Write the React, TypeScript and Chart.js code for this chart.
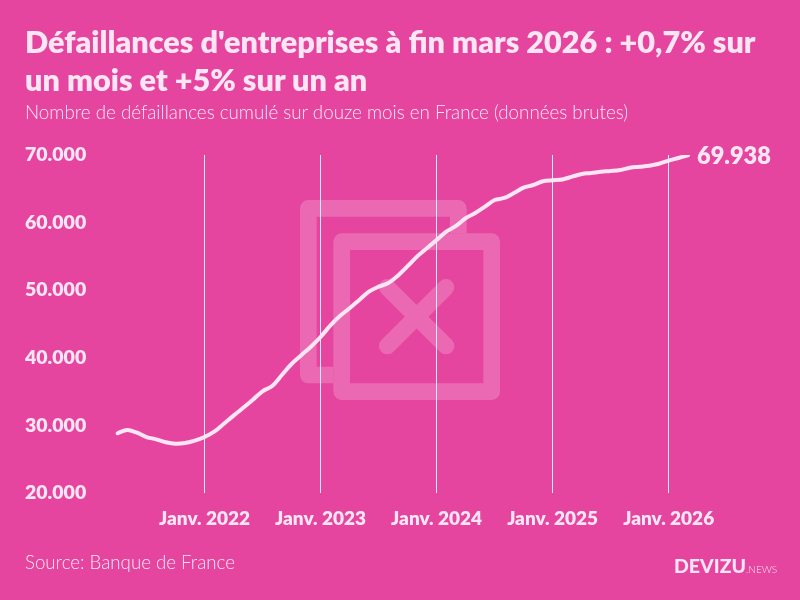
import { useEffect, useRef } from 'react';
import { Chart, registerables } from 'chart.js';

Chart.register(...registerables);

const years = [2021, 2022, 2023, 2024, 2025, 2026];
const firstMonths = [4, 1, 1, 1, 1, 1];
const lastMonths = [12, 12, 12, 12, 12, 3];

// cumulative failures over twelve months (april 2021 -> march 2026)
const values2021 = [28830, 29320, 28920, 28280, 27940, 27500, 27290, 27400, 27740];
const values2022 = [28280, 29070, 30250, 31450, 32600, 33800, 35050, 35830, 37460, 39080, 40370, 41640];
const values2023 = [43080, 44750, 46180, 47320, 48550, 49780, 50520, 51050, 52150, 53550, 55000, 56200];
const values2024 = [57430, 58650, 59500, 60640, 61420, 62350, 63340, 63640, 64380, 65160, 65560, 66110];
const values2025 = [66260, 66380, 66790, 67190, 67340, 67530, 67630, 67780, 68120, 68270, 68420, 68710];
const values2026 = [69160, 69560, 69938];

const values = [...values2021, ...values2022, ...values2023, ...values2024, ...values2025, ...values2026];
const labels: string[] = [];
years.forEach((y, i) => {
    for (let m = firstMonths[i]; m <= lastMonths[i]; m++) labels.push(`${y}-${m}`);
});

const BG = '#e5449f';
const INK = '#fde6f3';
const FONT = 'Lato, sans-serif';

const thousands = (v: number) => String(v).replace(/\B(?=(\d{3})+$)/g, '.');
const isJanuary = (i: number) => labels[i]?.endsWith('-1') && !labels[i]?.endsWith('-11');

// value written right after the end of the line
const endLabel = {
    id: 'endLabel',
    afterDatasetsDraw(chart: Chart) {
        const pts = chart.getDatasetMeta(0).data;
        const last = pts[pts.length - 1];
        const { ctx } = chart;
        ctx.save();
        ctx.fillStyle = INK;
        ctx.font = `800 23.5px ${FONT}`;
        ctx.textAlign = 'left';
        ctx.textBaseline = 'middle';
        ctx.fillText(thousands(values[values.length - 1]), last.x + 9, last.y + 1);
        ctx.restore();
    },
};

export default function App() {
    const canvasRef = useRef<HTMLCanvasElement>(null);

    useEffect(() => {
        if (!canvasRef.current) return;
        const chart = new Chart(canvasRef.current, {
            type: 'line',
            data: {
                labels,
                datasets: [
                    {
                        data: values,
                        borderColor: INK,
                        borderWidth: 4,
                        borderCapStyle: 'round',
                        borderJoinStyle: 'round',
                        tension: 0.35,
                        pointRadius: 0,
                    },
                ],
            },
            options: {
                responsive: false,
                animation: false,
                layout: { padding: { left: 25, right: 112, top: 155, bottom: 0 } },
                plugins: {
                    legend: { display: false },
                    tooltip: { enabled: false },
                    title: { display: false },
                },
                scales: {
                    x: {
                        type: 'category',
                        offset: false,
                        border: { display: false },
                        grid: {
                            drawTicks: false,
                            lineWidth: 1,
                            color: ctx => (isJanuary(ctx.index) ? INK : 'transparent'),
                        },
                        afterFit: scale => {
                            scale.height = 107;
                        },
                        ticks: {
                            autoSkip: false,
                            maxRotation: 0,
                            minRotation: 0,
                            padding: 14,
                            color: INK,
                            font: { family: FONT, size: 19, weight: 800 },
                            callback: (_v, i) => (isJanuary(i) ? `Janv. ${labels[i].split('-')[0]}` : ''),
                        },
                    },
                    y: {
                        min: 20000,
                        max: 70000,
                        border: { display: false },
                        grid: { display: false, drawTicks: false },
                        afterFit: scale => {
                            scale.width = 92.5;
                        },
                        ticks: {
                            stepSize: 10000,
                            padding: 0,
                            crossAlign: 'far',
                            color: INK,
                            font: { family: FONT, size: 19.5, weight: 800 },
                            callback: v => thousands(Number(v)),
                        },
                    },
                },
            },
            plugins: [endLabel],
        });
        return () => chart.destroy();
    }, []);

    return (
        <div style={{ position: 'absolute', left: 0, top: 0, width: 800, height: 600, background: BG, overflow: 'hidden', fontFamily: FONT, color: INK }}>
            <svg width={800} height={600} style={{ position: 'absolute', left: 0, top: 0 }}>
                <g fill="none" stroke="#fff" strokeWidth={16.67} opacity={0.2}>
                    <path d="M333.3 375H308.3V208.3H458.3V233.3" strokeLinejoin="round" />
                    <rect x={341.7} y={241.7} width={150} height={150} strokeLinejoin="round" />
                    <path d="M387.3 287.3L446 346M446 287.3L387.3 346" strokeLinecap="round" />
                </g>
            </svg>
            <canvas ref={canvasRef} width={800} height={600} style={{ position: 'absolute', left: 0, top: 0, display: 'block' }} />
            <div style={{ position: 'absolute', left: 25, top: 23, width: 770, fontSize: 30.6, fontWeight: 800, lineHeight: '38px' }}>
                Défaillances d'entreprises à fin mars 2026 : +0,7% sur
                <br />
                un mois et +5% sur un an
            </div>
            <div style={{ position: 'absolute', left: 25, top: 101, fontSize: 18.75, fontWeight: 300, lineHeight: '22px', whiteSpace: 'nowrap' }}>
                Nombre de défaillances cumulé sur douze mois en France (données brutes)
            </div>
            <div style={{ position: 'absolute', left: 25, top: 551, fontSize: 18.7, fontWeight: 300, lineHeight: '22px' }}>
                Source: Banque de France
            </div>
            <div style={{ position: 'absolute', left: 674, top: 554, fontSize: 19.5, fontWeight: 900, lineHeight: '24px', whiteSpace: 'nowrap' }}>
                DEVIZU<span style={{ fontSize: 10, fontWeight: 300 }}>.NEWS</span>
            </div>
        </div>
    );
}
